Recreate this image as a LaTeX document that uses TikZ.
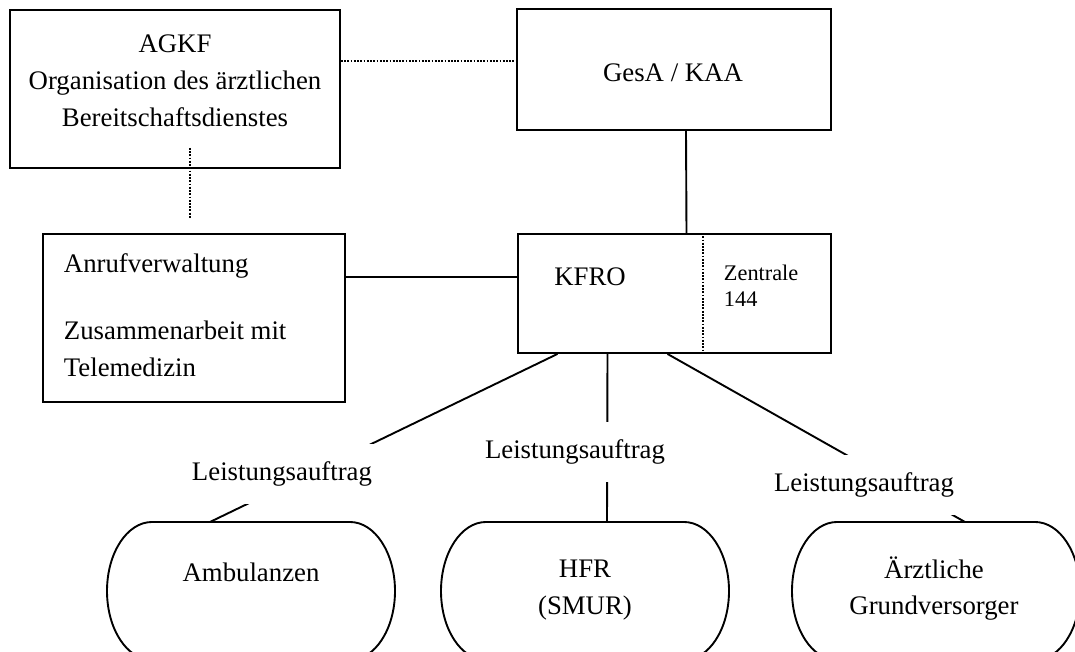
\documentclass[tikz,border=0pt]{standalone}
\usepackage{fontspec}
\setmainfont{Liberation Serif}
\usepackage{tikz}
\usetikzlibrary{calc}
\newcommand{\pxl}{0.448pt}

\begin{document}
\begin{tikzpicture}[x = 0.448pt, y = 0.448pt, line width = 0.85pt,
              every node/.style = {font = \fontsize{12}{16.5}\selectfont},
              box/.style = {draw, rectangle, inner sep = 0pt},
              pill/.style = {rectangle, inner sep = 0pt, outer sep = 0pt, minimum width = 288*\pxl, minimum height = 138*\pxl},
              dots/.style = {line width = 0.9pt, dash pattern = on 0.8pt off 0.65pt},
              lbl/.style = {fill = white, inner xsep = 3pt, minimum height = 60*\pxl}]
              \useasboundingbox (0, 0) rectangle (1075, 652);
              % boxes
              \node [box, minimum width = 330*\pxl, minimum height = 158*\pxl] (agkf) at (175, 563) {};
              \node [box, minimum width = 314*\pxl, minimum height = 121*\pxl] (gesa) at (674, 582.5) {};
              \node [box, minimum width = 313*\pxl, minimum height = 119*\pxl] (kfro) at (674.5, 358.5) {};
              \node [box, minimum width = 302*\pxl, minimum height = 168*\pxl] (anruf) at (194, 334) {};
              \draw [dots] (kfro.north -| 703, 0) -- (kfro.south -| 703, 0);
              \node [align = center] (agkftxt) at (175, 571) {AGKF\\Organisation des ärztlichen\\Bereitschaftsdienstes};
              \node (gesatxt) at (673, 579) {GesA / KAA};
              \node (kfrotxt) at (590, 375) {KFRO};
              \node [anchor = west, inner sep = 0pt, align = left, font = \fontsize{10}{11.6}\selectfont] (zentxt) at (723, 366) {Zentrale\\144};
              \node [anchor = west, inner sep = 0pt] (anruftxt) at (63, 386) {Anrufverwaltung};
              \node [anchor = west, inner sep = 0pt, align = left] (teletxt) at (63, 303.5) {Zusammenarbeit mit\\Telemedizin};
              % Leistungserbringer
              \node [pill] (amb) at (251, 61) {};
              \node [pill] (hfr) at (585, 61) {};
              \node [pill] (grund) at (936, 61) {};
              \foreach \n in {amb, hfr, grund}
              \draw ($(\n.north)+(99,0)$) arc [start angle = 90, end angle = -90, x radius = 45*\pxl, y radius = 69*\pxl]
                -- ($(\n.south)+(-99,0)$) arc [start angle = 270, end angle = 90, x radius = 45*\pxl, y radius = 69*\pxl] -- cycle;
              \node (ambtxt) at (251, 80) {Ambulanzen};
              \node [align = center] (hfrtxt) at (585, 62) {HFR\\(SMUR)};
              \node [align = center] (grundtxt) at (934, 63.5) {Ärztliche\\Grundversorger};
              % connectors
              \draw [dots] (agkf.east |- 0, 591) -- (gesa.west |- 0, 591);
              \coordinate (dtop) at (190, 504);
              \coordinate (dbot) at (190, 434);
              \draw [dots] (dtop) -- (dbot);
              \draw ($(gesa.south)+(12,0)$) -- ($(kfro.north)+(12,0)$);
              \draw (anruf.east |- kfrotxt) -- (kfro.west |- kfrotxt);
              \draw ($(kfro.south)+(-117,0)$) -- ($(amb.north)+(-41,0)$);
              \draw ($(kfro.south)+(-67,0)$) -- ($(hfr.north)+(22,0)$);
              \draw ($(kfro.south)+(-7,0)$) -- ($(grund.north)+(29,0)$);
              \node [lbl] (lbla) at (282, 178) {Leistungsauftrag};
              \node [lbl] (lblb) at (575, 200) {Leistungsauftrag};
              \node [lbl] (lblc) at (864, 167) {Leistungsauftrag};
            \end{tikzpicture}
\end{document}
